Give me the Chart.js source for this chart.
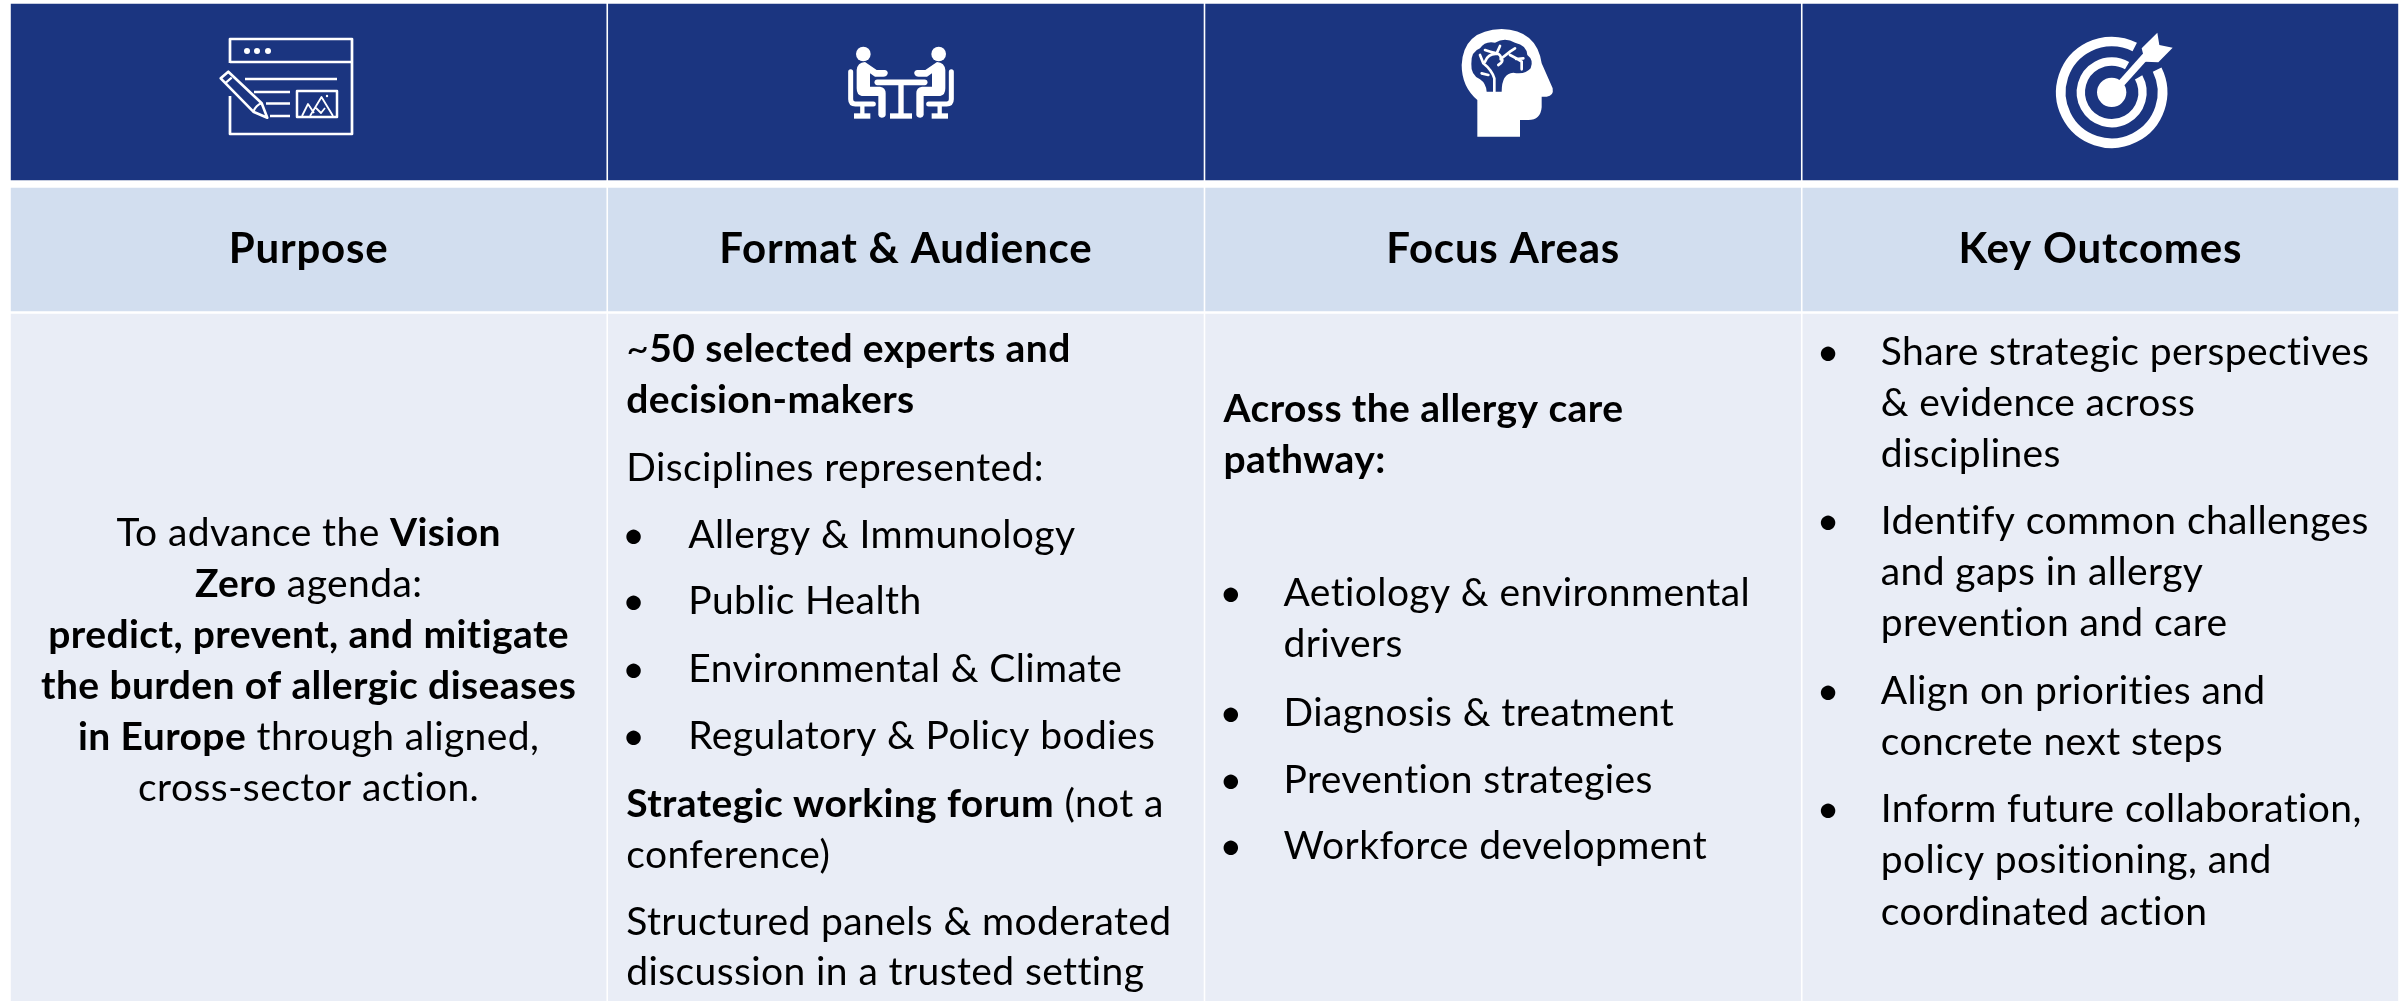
<!DOCTYPE html>
<html>
<head>
<meta charset="utf-8">
<title>Vision Zero forum overview</title>
<script src="https://cdn.jsdelivr.net/npm/chart.js@4/dist/chart.umd.min.js"></script>
<style>
  html, body { margin: 0; padding: 0; background: #fff; }
  canvas { display: block; }
</style>
</head>
<body>
<canvas id="table" width="2399" height="1001"></canvas>
<script>
const columns = ['Purpose', 'Format & Audience', 'Focus Areas', 'Key Outcomes'];

// row bands, top and bottom on the page's vertical scale
const iconBand = [[4, 180], [4, 180], [4, 180], [4, 180]];
const headerBand = [[188, 311], [188, 311], [188, 311], [188, 311]];
const bodyBand = [[314, 1001], [314, 1001], [314, 1001], [314, 1001]];

// each line is a list of [text, bold] runs
const purposeLines = [
    [['To advance the ', 0], ['Vision', 1]],
    [['Zero', 1], [' agenda:', 0]],
    [['predict, prevent, and mitigate', 1]],
    [['the burden of allergic diseases', 1]],
    [['in Europe', 1], [' through aligned,', 0]],
    [['cross-sector action.', 0]]
];
const formatLines = [
    [['~', 0], ['50 selected experts and', 1]],
    [['decision-makers', 1]],
    [['Disciplines represented:', 0]],
    [['Allergy & Immunology', 0]],
    [['Public Health', 0]],
    [['Environmental & Climate', 0]],
    [['Regulatory & Policy bodies', 0]],
    [['Strategic working forum', 1], [' (not a', 0]],
    [['conference)', 0]],
    [['Structured panels & moderated', 0]],
    [['discussion in a trusted setting', 0]]
];
const focusLines = [
    [['Across the allergy care', 1]],
    [['pathway:', 1]],
    [['Aetiology & environmental', 0]],
    [['drivers', 0]],
    [['Diagnosis & treatment', 0]],
    [['Prevention strategies', 0]],
    [['Workforce development', 0]]
];
const outcomeLines = [
    [['Share strategic perspectives', 0]],
    [['& evidence across', 0]],
    [['disciplines', 0]],
    [['Identify common challenges', 0]],
    [['and gaps in allergy', 0]],
    [['prevention and care', 0]],
    [['Align on priorities and', 0]],
    [['concrete next steps', 0]],
    [['Inform future collaboration,', 0]],
    [['policy positioning, and', 0]],
    [['coordinated action', 0]]
];

// baselines
const headerBaseline = 263;
const purposeBaselines = [546, 597, 648, 699, 750, 801];
const formatBaselines = [362, 413, 481, 548, 614, 682, 749, 817, 868, 935, 985];
const focusBaselines = [422, 473, 606, 657, 726, 793, 859];
const outcomeBaselines = [365, 416, 467, 534, 585, 636, 704, 755, 822, 873, 925];

// which lines carry a bullet, and which are indented under one
const formatBullets = [3, 4, 5, 6];
const focusBullets = [2, 4, 5, 6];
const focusIndented = [3];
const outcomeBullets = [0, 3, 6, 8];
const outcomeIndented = [1, 2, 4, 5, 7, 9, 10];

const NAVY = '#1b3580';
const BODY_TEXT = { size: 39, spacing: '0.4px' };
const HEADER_TEXT = { size: 42, spacing: '0.8px' };
const TEXT_LEFT = 19;
const BULLET_SHIFT = -4;

function setFont(ctx, bold, style) {
    ctx.font = `${bold ? 'bold' : 'normal'} ${style.size}px Lato`;
    // a non-zero spacing also stops Lato's ti and tt ligatures
    ctx.letterSpacing = style.spacing;
}

function runsWidth(ctx, runs, style) {
    return runs.reduce((sum, [text, bold]) => {
        setFont(ctx, bold, style);
        return sum + ctx.measureText(text).width;
    }, 0);
}

function drawRuns(ctx, runs, x, y, style) {
    let cursor = x;
    runs.forEach(([text, bold]) => {
        setFont(ctx, bold, style);
        ctx.fillText(text, cursor, y);
        cursor += ctx.measureText(text).width;
    });
}

function drawCentred(ctx, runs, cx, y, style) {
    drawRuns(ctx, runs, cx - runsWidth(ctx, runs, style) / 2, y, style);
}

function drawLeftColumn(ctx, left, indent, lines, baselines, yScale, bullets, indented) {
    lines.forEach((runs, i) => {
        const y = yScale.getPixelForValue(baselines[i]);
        if (bullets.includes(i)) {
            drawRuns(ctx, [['•', 0]], left + BULLET_SHIFT, y, BODY_TEXT);
        }
        const hanging = bullets.includes(i) || indented.includes(i);
        drawRuns(ctx, runs, hanging ? left + indent : left, y, BODY_TEXT);
    });
}

function stroked(ctx, path, width) {
    ctx.lineWidth = width;
    ctx.stroke(new Path2D(path));
}

function drawFormIcon(ctx) {
    ctx.lineJoin = 'round';
    stroked(ctx, 'M0 25V1H122V96H0V58', 2.7);
    stroked(ctx, 'M0 24H122', 2.7);
    [17, 27, 38].forEach(x => {
        ctx.beginPath();
        ctx.arc(x, 13, 3, 0, Math.PI * 2);
        ctx.fill();
    });
    stroked(ctx, 'M15 41H107M24 54H60M36 65.5H60M40 78H60', 2.7);
    stroked(ctx, 'M67 53H107V79H67Z', 2.5);
    stroked(ctx, 'M72 78L78 66L84 75M80 78L91.5 59L103 78M86 70L91 75L95 70', 1.8);
    ctx.beginPath();
    ctx.arc(97, 58, 1.2, 0, Math.PI * 2);
    ctx.fill();
    stroked(ctx, 'M-9.3 40.3L-1.7 33.7L31.7 65.3L37.3 79.7L23.3 73.7Z', 2.6);
    stroked(ctx, 'M-5 45.3L1.7 39.7M23.3 73.7Q26 67 31.7 65.3', 2.2);
}

function drawSeatedHalf(ctx) {
    ctx.beginPath();
    ctx.arc(130, 42, 22, 0, Math.PI * 2);
    ctx.fill();
    ctx.fill(new Path2D('M110 90Q112 68 135 66L170 90H195Q205 93 203 101Q200 110 190 110H165L150 100V140H180Q197 142 197 160V225Q195 233 185 233Q177 233 175 225V168H125Q110 165 110 145Z'));
    ctx.lineCap = 'round';
    stroked(ctx, 'M92 95V178Q92 192 106 192H160', 15);
    ctx.lineCap = 'butt';
    stroked(ctx, 'M127 192V225', 13);
    ctx.fillRect(102, 220, 49, 16);
}

function drawMeetingIcon(ctx) {
    drawSeatedHalf(ctx);
    ctx.save();
    ctx.translate(486, 0);
    ctx.scale(-1, 1);
    drawSeatedHalf(ctx);
    ctx.restore();
    ctx.lineCap = 'round';
    stroked(ctx, 'M172 127H314', 17);
    ctx.lineCap = 'butt';
    stroked(ctx, 'M243 127V225', 16);
    ctx.fillRect(210, 220, 66, 16);
}

function drawBrainIcon(ctx) {
    ctx.fill(new Path2D('M142 350V240Q95 200 95 135Q100 30 215 27Q320 30 335 130L368 205Q372 228 350 230H335V262Q332 300 295 300H270V350Z'));
    ctx.fillStyle = NAVY;
    ctx.fill(new Path2D('M170 215Q168 190 150 178Q122 165 124 132Q122 95 150 85Q165 62 195 68Q225 50 255 68Q290 75 292 105Q312 120 302 145Q285 165 250 158Q215 160 215 215Z'));
    ctx.fillStyle = '#fff';
    ctx.lineCap = 'round';
    stroked(ctx, 'M193 215V175Q185 150 160 130L150 105M175 165L155 160M205 135Q222 125 215 115L240 95L255 85M240 105Q260 115 275 125V148M258 117L280 115M200 100L210 78M165 90Q180 95 200 100Q215 105 212 118M165 125Q175 100 200 102', 8);
}

function drawTargetIcon(ctx) {
    ctx.lineWidth = 29;
    ctx.beginPath();
    ctx.arc(245, 217, 152.5, -26.6 * Math.PI / 180, -63 * Math.PI / 180);
    ctx.stroke();
    ctx.lineWidth = 25;
    ctx.beginPath();
    ctx.arc(245, 217, 92.5, -29 * Math.PI / 180, -60 * Math.PI / 180);
    ctx.stroke();
    ctx.beginPath();
    ctx.arc(245, 217, 44, 0, Math.PI * 2);
    ctx.fill();
    stroked(ctx, 'M265 200L350 105', 22);
    ctx.fill(new Path2D('M335 85L382 38L388 75L428 83L385 127L345 125Z'));
}

// icon, page position of its drawing origin, drawing scale
const icons = [
    { draw: drawFormIcon, x: 230, y: 38, scale: 1 },
    { draw: drawMeetingIcon, x: 820, y: 40, scale: 1 / 3 },
    { draw: drawBrainIcon, x: 1430, y: 20, scale: 1 / 3 },
    { draw: drawTargetIcon, x: 2030, y: 20, scale: 1 / 3 }
];

const tablePlugin = {
    id: 'tableContent',
    afterDatasetsDraw(chart) {
        const { ctx, scales } = chart;
        const xs = scales.x;
        const ys = scales.y;
        const colWidth = xs.getPixelForValue(1) - xs.getPixelForValue(0);
        const colLeft = i => xs.getPixelForValue(i) - colWidth / 2 + TEXT_LEFT;

        ctx.save();
        ctx.fillStyle = '#000';
        ctx.textBaseline = 'alphabetic';
        ctx.textAlign = 'left';

        columns.forEach((title, i) => {
            drawCentred(ctx, [[title, 1]], xs.getPixelForValue(i), ys.getPixelForValue(headerBaseline), HEADER_TEXT);
        });
        purposeLines.forEach((runs, i) => {
            drawCentred(ctx, runs, xs.getPixelForValue(0), ys.getPixelForValue(purposeBaselines[i]), BODY_TEXT);
        });
        drawLeftColumn(ctx, colLeft(1), 62, formatLines, formatBaselines, ys, formatBullets, []);
        drawLeftColumn(ctx, colLeft(2), 60, focusLines, focusBaselines, ys, focusBullets, focusIndented);
        drawLeftColumn(ctx, colLeft(3), 60, outcomeLines, outcomeBaselines, ys, outcomeBullets, outcomeIndented);
        ctx.restore();

        icons.forEach(icon => {
            ctx.save();
            ctx.translate(icon.x, icon.y);
            ctx.scale(icon.scale, icon.scale);
            ctx.fillStyle = '#fff';
            ctx.strokeStyle = '#fff';
            icon.draw(ctx);
            ctx.restore();
        });
    }
};

function band(data, color) {
    return { data, backgroundColor: color, borderWidth: 0, barThickness: 595, grouped: false };
}

new Chart(document.getElementById('table'), {
    type: 'bar',
    data: {
        labels: columns,
        datasets: [
            band(iconBand, NAVY),
            band(headerBand, '#d2deef'),
            band(bodyBand, '#e9edf6')
        ]
    },
    options: {
        responsive: false,
        animation: false,
        layout: { padding: { left: 10, right: 0, top: 0, bottom: 0 } },
        plugins: { legend: { display: false }, tooltip: { enabled: false } },
        scales: {
            x: { display: false },
            y: { display: false, reverse: true, min: 0, max: 1001 }
        }
    },
    plugins: [tablePlugin]
});
</script>
</body>
</html>
